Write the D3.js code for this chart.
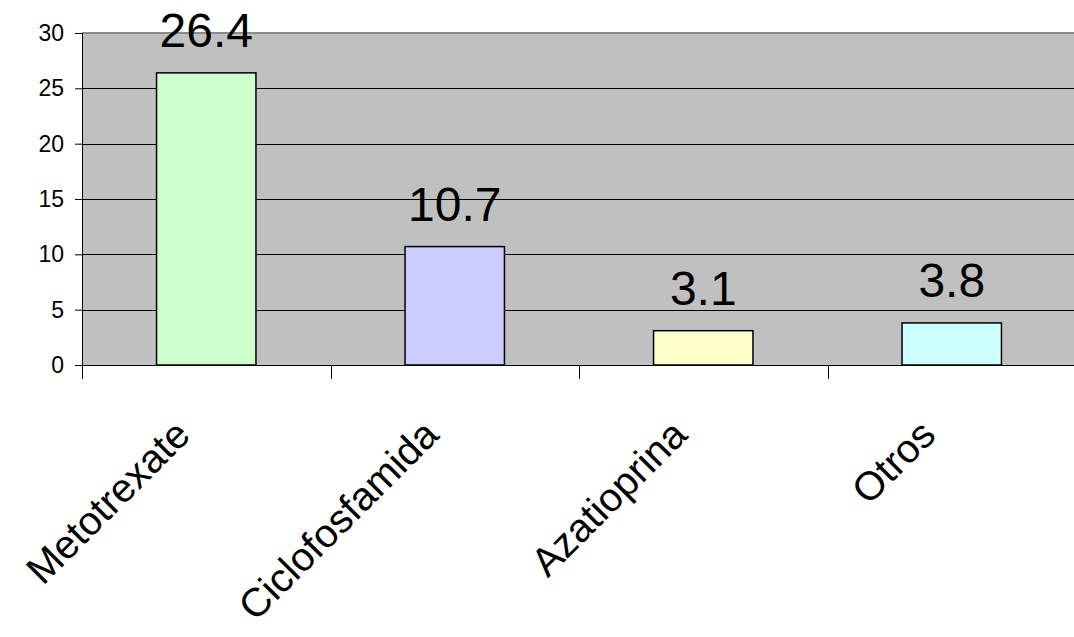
<!DOCTYPE html>
<html>
<head>
<meta charset="utf-8">
<script src="https://cdn.jsdelivr.net/npm/d3@7"></script>
<style>
  html, body { margin: 0; padding: 0; background: #ffffff; }
  svg { display: block; font-family: "Liberation Sans", Arial, sans-serif; }
</style>
</head>
<body>
<svg id="chart" width="1074" height="637"></svg>
<script>
// Drug categories and percentages
const categories = ["Metotrexate", "Ciclofosfamida", "Azatioprina", "Otros"];
const values = [26.4, 10.7, 3.1, 3.8];
const barColors = ["#CCFFCC", "#CCCCFF", "#FFFFCC", "#CCFFFF"];
const yTicks = [0, 5, 10, 15, 20, 25, 30];

const svg = d3.select("#chart");
const plot = { left: 82, right: 1076, top: 33, bottom: 365 };

const x = d3.scaleBand()
  .domain(categories)
  .range([plot.left, plot.right])
  .paddingInner(0.6)
  .paddingOuter(0.3);

const xBoundary = d3.scaleLinear()
  .domain([0, categories.length])
  .range([plot.left, plot.right]);

const y = d3.scaleLinear()
  .domain([0, 30])
  .range([plot.bottom, plot.top]);

// Plot area background
svg.append("rect")
  .attr("x", plot.left)
  .attr("y", plot.top)
  .attr("width", plot.right - plot.left)
  .attr("height", plot.bottom - plot.top)
  .attr("fill", "#C0C0C0");

// Horizontal gridlines
svg.append("g")
  .selectAll("line")
  .data(yTicks.filter(d => d > 0 && d < 30))
  .join("line")
  .attr("x1", plot.left)
  .attr("x2", plot.right)
  .attr("y1", d => Math.round(y(d)) + 0.5)
  .attr("y2", d => Math.round(y(d)) + 0.5)
  .attr("stroke", "#000")
  .attr("stroke-width", 1);

// Plot area top border
svg.append("line")
  .attr("x1", plot.left).attr("x2", plot.right)
  .attr("y1", plot.top).attr("y2", plot.top)
  .attr("stroke", "#8a8a8a").attr("stroke-width", 2);

// Bars
svg.append("g")
  .selectAll("rect")
  .data(values)
  .join("rect")
  .attr("x", (d, i) => x(categories[i]))
  .attr("y", d => y(d))
  .attr("width", x.bandwidth())
  .attr("height", d => y(0) - y(d))
  .attr("fill", (d, i) => barColors[i])
  .attr("stroke", "#000")
  .attr("stroke-width", 1.5);

// Value labels
svg.append("g")
  .selectAll("text")
  .data(values)
  .join("text")
  .attr("x", (d, i) => x(categories[i]) + x.bandwidth() / 2)
  .attr("y", d => y(d) - 26)
  .attr("text-anchor", "middle")
  .attr("font-size", 48)
  .attr("fill", "#000")
  .text(d => d.toFixed(1));

// Y axis
const yAxis = d3.axisLeft(y)
  .tickValues(yTicks)
  .tickSize(7)
  .tickPadding(11)
  .tickFormat(d3.format("d"));

const gy = svg.append("g")
  .attr("transform", `translate(${plot.left},0)`)
  .call(yAxis);
gy.select(".domain").remove();
gy.selectAll(".tick line").attr("stroke", "#000");
gy.selectAll(".tick text")
  .attr("font-size", 23)
  .attr("font-family", "Liberation Sans, Arial, sans-serif")
  .attr("fill", "#000");

// Vertical axis line, extending into the category tick zone
svg.append("line")
  .attr("x1", plot.left + 0.5).attr("x2", plot.left + 0.5)
  .attr("y1", plot.top).attr("y2", plot.bottom + 14)
  .attr("stroke", "#000").attr("stroke-width", 1);

// Category axis line and boundary ticks
svg.append("line")
  .attr("x1", plot.left).attr("x2", plot.right)
  .attr("y1", plot.bottom + 0.5).attr("y2", plot.bottom + 0.5)
  .attr("stroke", "#000").attr("stroke-width", 1);

svg.append("g")
  .selectAll("line")
  .data(d3.range(1, categories.length + 1))
  .join("line")
  .attr("x1", d => Math.round(xBoundary(d)) + 0.5)
  .attr("x2", d => Math.round(xBoundary(d)) + 0.5)
  .attr("y1", plot.bottom)
  .attr("y2", plot.bottom + 14)
  .attr("stroke", "#000");

// Rotated category labels
svg.append("g")
  .selectAll("text")
  .data(categories)
  .join("text")
  .attr("transform", d => `translate(${x(d) + x.bandwidth() / 2 - 14},${437}) rotate(-45)`)
  .attr("text-anchor", "end")
  .attr("font-size", 40)
  .attr("fill", "#000")
  .text(d => d);
</script>
</body>
</html>
